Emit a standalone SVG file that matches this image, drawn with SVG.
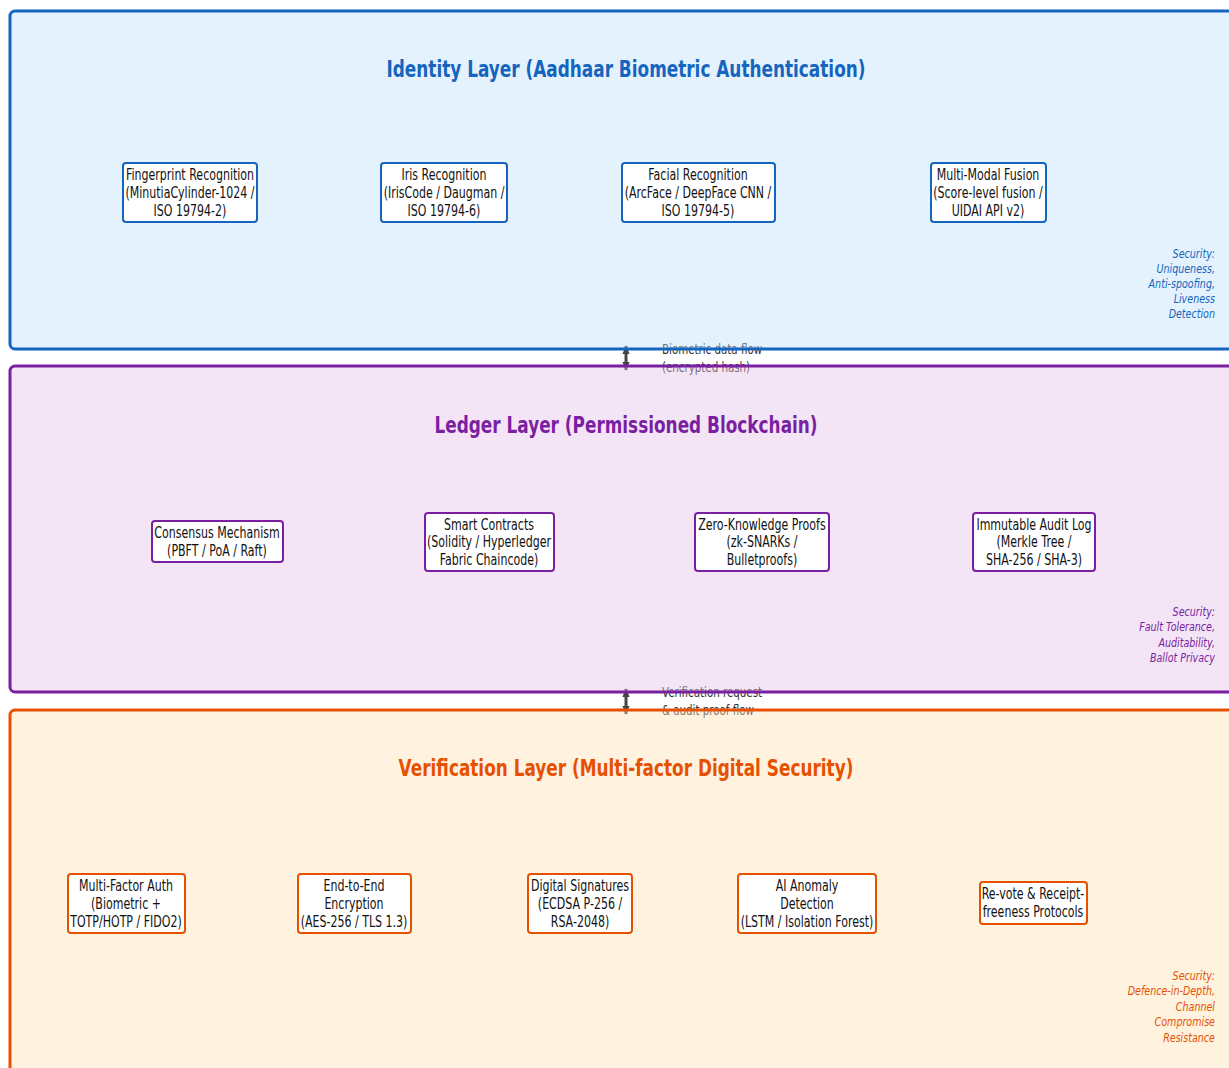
<svg xmlns="http://www.w3.org/2000/svg" width="1229" height="1068" viewBox="0 0 1229 1068">
<style>
text{font-family:"DejaVu Sans",sans-serif}
.title{font-size:23px;font-weight:bold;text-anchor:middle}
.node rect{fill:#fff;stroke-width:2}
.node text{font-size:15px;fill:#111;text-anchor:middle}
.sec{font-size:13px;font-style:italic;text-anchor:end}
.lbl{font-size:14px;fill:#333}
.conn line{stroke:#444;stroke-width:3}
</style>
<defs>
<marker id="ah" viewBox="0 0 10 10" refX="9" refY="5" markerWidth="3" markerHeight="3" orient="auto-start-reverse"><path d="M0,1 L10,5 L0,9 z" fill="#444"/></marker>
</defs>
<g id="connectors" class="conn">
<line x1="626" y1="346" x2="626" y2="370" marker-start="url(#ah)" marker-end="url(#ah)"/>
<g transform="matrix(0.735 0 0 1 175.43 0)"><text class="lbl" x="662" y="354">Biometric data flow</text>
<text class="lbl" x="662" y="372">(encrypted hash)</text></g>
<line x1="626" y1="689" x2="626" y2="714" marker-start="url(#ah)" marker-end="url(#ah)"/>
<g transform="matrix(0.735 0 0 1 175.43 0)"><text class="lbl" x="662" y="697">Verification request</text>
<text class="lbl" x="662" y="715">&amp; audit proof flow</text></g>
</g>
<g id="layer-identity">
<rect x="10" y="11" width="1235" height="338" rx="5" fill="#bbdefb" fill-opacity="0.4" stroke="#1565c0" stroke-width="3"/>
<text class="title" x="626" y="77" fill="#1565c0" transform="matrix(0.735 0 0 1 165.89 0)">Identity Layer (Aadhaar Biometric Authentication)</text>
<text class="sec" fill="#1565c0" x="1215" y="258" transform="matrix(0.735 0 0 1 321.975 0)"><tspan x="1215">Security:</tspan><tspan x="1215" dy="15">Uniqueness,</tspan><tspan x="1215" dy="15">Anti-spoofing,</tspan><tspan x="1215" dy="15">Liveness</tspan><tspan x="1215" dy="15">Detection</tspan></text>
</g>
<g id="layer-ledger">
<rect x="10" y="366" width="1235" height="326" rx="5" fill="#e1bee7" fill-opacity="0.4" stroke="#7b1fa2" stroke-width="3"/>
<text class="title" x="626" y="433" fill="#7b1fa2" transform="matrix(0.735 0 0 1 165.89 0)">Ledger Layer (Permissioned Blockchain)</text>
<text class="sec" fill="#7b1fa2" x="1215" y="616" transform="matrix(0.735 0 0 1 321.975 0)"><tspan x="1215">Security:</tspan><tspan x="1215" dy="15.5">Fault Tolerance,</tspan><tspan x="1215" dy="15.5">Auditability,</tspan><tspan x="1215" dy="15.5">Ballot Privacy</tspan></text>
</g>
<g id="layer-verification">
<rect x="10" y="710" width="1235" height="380" rx="5" fill="#ffe0b2" fill-opacity="0.4" stroke="#e65100" stroke-width="3"/>
<text class="title" x="626" y="776" fill="#e65100" transform="matrix(0.735 0 0 1 165.89 0)">Verification Layer (Multi-factor Digital Security)</text>
<text class="sec" fill="#e65100" x="1215" y="980" transform="matrix(0.735 0 0 1 321.975 0)"><tspan x="1215">Security:</tspan><tspan x="1215" dy="15.5">Defence-in-Depth,</tspan><tspan x="1215" dy="15.5">Channel</tspan><tspan x="1215" dy="15.5">Compromise</tspan><tspan x="1215" dy="15.5">Resistance</tspan></text>
</g>
<g id="n-fingerprint" class="node"><rect x="123" y="163" width="134" height="59" rx="3" stroke="#1565c0"/><g transform="matrix(0.735 0 0 1 50.35 0)"><text x="190" y="180">Fingerprint Recognition</text><text x="190" y="198">(MinutiaCylinder-1024 /</text><text x="190" y="216">ISO 19794-2)</text></g></g>
<g id="n-iris" class="node"><rect x="381" y="163" width="126" height="59" rx="3" stroke="#1565c0"/><g transform="matrix(0.735 0 0 1 117.66 0)"><text x="444" y="180">Iris Recognition</text><text x="444" y="198">(IrisCode / Daugman /</text><text x="444" y="216">ISO 19794-6)</text></g></g>
<g id="n-facial" class="node"><rect x="622" y="163" width="153" height="59" rx="3" stroke="#1565c0"/><g transform="matrix(0.735 0 0 1 184.97 0)"><text x="698" y="180">Facial Recognition</text><text x="698" y="198">(ArcFace / DeepFace CNN /</text><text x="698" y="216">ISO 19794-5)</text></g></g>
<g id="n-fusion" class="node"><rect x="931" y="163" width="115" height="59" rx="3" stroke="#1565c0"/><g transform="matrix(0.735 0 0 1 261.82 0)"><text x="988" y="180">Multi-Modal Fusion</text><text x="988" y="198">(Score-level fusion /</text><text x="988" y="216">UIDAI API v2)</text></g></g>
<g id="n-consensus" class="node"><rect x="152" y="521" width="131" height="41" rx="3" stroke="#7b1fa2"/><g transform="matrix(0.735 0 0 1 57.505 0)"><text x="217" y="538">Consensus Mechanism</text><text x="217" y="556">(PBFT / PoA / Raft)</text></g></g>
<g id="n-smart" class="node"><rect x="425" y="513" width="129" height="58" rx="3" stroke="#7b1fa2"/><g transform="matrix(0.735 0 0 1 129.585 0)"><text x="489" y="530">Smart Contracts</text><text x="489" y="547">(Solidity / Hyperledger</text><text x="489" y="565">Fabric Chaincode)</text></g></g>
<g id="n-zkp" class="node"><rect x="695" y="513" width="134" height="58" rx="3" stroke="#7b1fa2"/><g transform="matrix(0.735 0 0 1 201.93 0)"><text x="762" y="530">Zero-Knowledge Proofs</text><text x="762" y="547">(zk-SNARKs /</text><text x="762" y="565">Bulletproofs)</text></g></g>
<g id="n-audit" class="node"><rect x="973" y="513" width="122" height="58" rx="3" stroke="#7b1fa2"/><g transform="matrix(0.735 0 0 1 274.01 0)"><text x="1034" y="530">Immutable Audit Log</text><text x="1034" y="547">(Merkle Tree /</text><text x="1034" y="565">SHA-256 / SHA-3)</text></g></g>
<g id="n-mfa" class="node"><rect x="68" y="874" width="117" height="59" rx="3" stroke="#e65100"/><g transform="matrix(0.735 0 0 1 33.39 0)"><text x="126" y="891">Multi-Factor Auth</text><text x="126" y="909">(Biometric +</text><text x="126" y="927">TOTP/HOTP / FIDO2)</text></g></g>
<g id="n-e2e" class="node"><rect x="298" y="874" width="113" height="59" rx="3" stroke="#e65100"/><g transform="matrix(0.735 0 0 1 93.81 0)"><text x="354" y="891">End-to-End</text><text x="354" y="909">Encryption</text><text x="354" y="927">(AES-256 / TLS 1.3)</text></g></g>
<g id="n-sig" class="node"><rect x="528" y="874" width="104" height="59" rx="3" stroke="#e65100"/><g transform="matrix(0.735 0 0 1 153.7 0)"><text x="580" y="891">Digital Signatures</text><text x="580" y="909">(ECDSA P-256 /</text><text x="580" y="927">RSA-2048)</text></g></g>
<g id="n-ai" class="node"><rect x="738" y="874" width="138" height="59" rx="3" stroke="#e65100"/><g transform="matrix(0.735 0 0 1 213.855 0)"><text x="807" y="891">AI Anomaly</text><text x="807" y="909">Detection</text><text x="807" y="927">(LSTM / Isolation Forest)</text></g></g>
<g id="n-revote" class="node"><rect x="980" y="882" width="107" height="42" rx="3" stroke="#e65100"/><g transform="matrix(0.735 0 0 1 273.745 0)"><text x="1033" y="899">Re-vote &amp; Receipt-</text><text x="1033" y="917">freeness Protocols</text></g></g>
</svg>
